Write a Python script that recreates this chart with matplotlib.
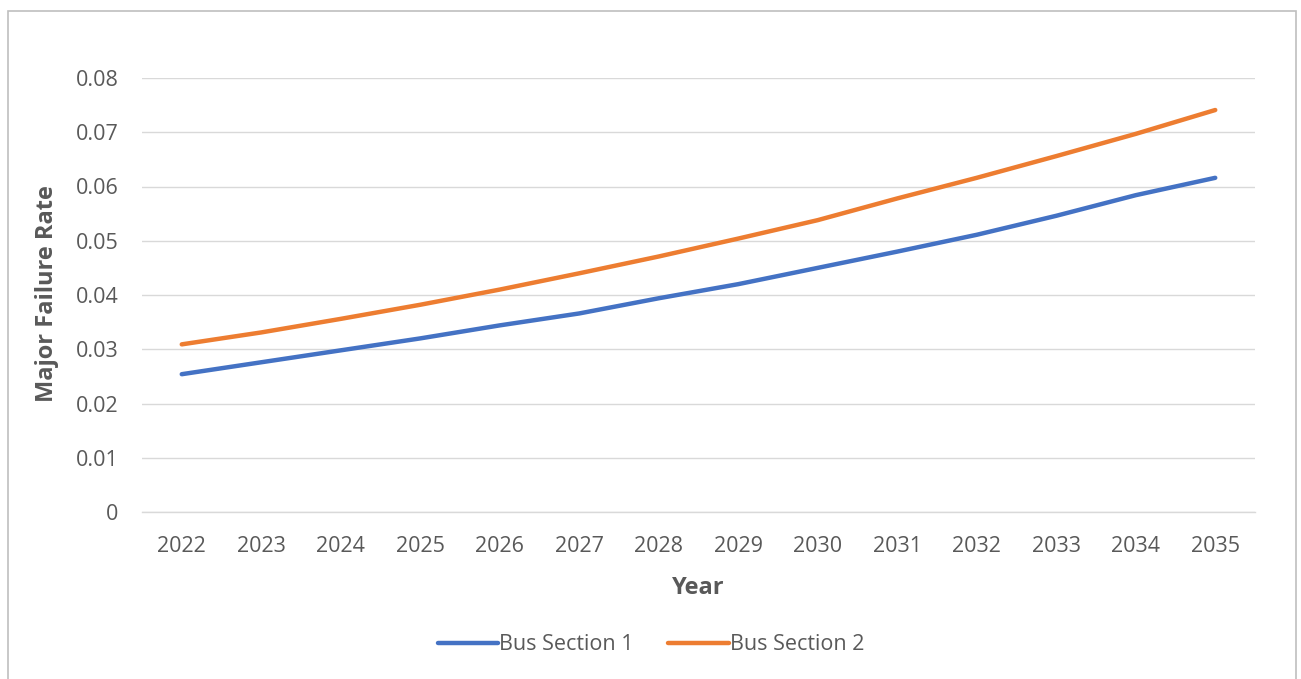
import matplotlib.pyplot as plt
from matplotlib.patches import Rectangle

years = [2022, 2023, 2024, 2025, 2026, 2027, 2028, 2029, 2030, 2031, 2032, 2033, 2034, 2035]
bus_section_1 = [0.0254, 0.0276, 0.0298, 0.0320, 0.0344, 0.0366, 0.0394,
                 0.0420, 0.0450, 0.0480, 0.0511, 0.0546, 0.0584, 0.0616]
bus_section_2 = [0.0309, 0.0331, 0.0356, 0.0382, 0.0410, 0.0440, 0.0471,
                 0.0504, 0.0538, 0.0578, 0.0616, 0.0656, 0.0697, 0.0741]
y_ticks = [0, 0.01, 0.02, 0.03, 0.04, 0.05, 0.06, 0.07, 0.08]
y_tick_labels = ['0', '0.01', '0.02', '0.03', '0.04', '0.05', '0.06', '0.07', '0.08']

plt.rcParams['font.family'] = ['Open Sans', 'DejaVu Sans']
text_grey = '#595959'

fig = plt.figure(figsize=(13.01, 6.79), dpi=100)
ax = fig.add_axes([142 / 1301, 1 - 512 / 679, (1255 - 142) / 1301, (512 - 78) / 679])

# chart frame
fig.patches.append(Rectangle((8 / 1301, -0.05), (1296 - 8) / 1301, 1.05 - 11 / 679,
                             transform=fig.transFigure, fill=False,
                             edgecolor='#BFBFBF', linewidth=1.2))

ax.plot(years, bus_section_1, color='#4472C4', linewidth=3.2,
        solid_capstyle='round', solid_joinstyle='round', label='Bus Section 1')
ax.plot(years, bus_section_2, color='#ED7D31', linewidth=3.2,
        solid_capstyle='round', solid_joinstyle='round', label='Bus Section 2')

ax.set_xlim(2021.5, 2035.5)
ax.set_ylim(0, 0.08)
ax.set_xticks(years)
ax.set_xticklabels([str(y) for y in years])
ax.set_yticks(y_ticks)
ax.set_yticklabels(y_tick_labels)
ax.tick_params(axis='both', length=0, labelsize=15.5, labelcolor=text_grey)
ax.tick_params(axis='y', pad=17)
ax.tick_params(axis='x', pad=17)

ax.grid(axis='y', color='#D9D9D9', linewidth=1)
ax.set_axisbelow(True)
for side in ['top', 'right', 'left']:
    ax.spines[side].set_visible(False)
ax.spines['bottom'].set_color('#D9D9D9')
ax.spines['bottom'].set_linewidth(1)

fig.text(698 / 1301, 1 - 588 / 679, 'Year', fontsize=17, fontweight='bold',
         color=text_grey, ha='center', va='center')
fig.text(47 / 1301, 1 - 294 / 679, 'Major Failure Rate', fontsize=17, fontweight='bold',
         color=text_grey, ha='center', va='center', rotation=90)

fig.legend(loc='center', bbox_to_anchor=(651 / 1301, 1 - 645 / 679), ncol=2, frameon=False,
           fontsize=15.5, labelcolor=text_grey, handlelength=2.8, handletextpad=0.05,
           columnspacing=1.6)

fig.savefig('out.png', dpi=100, facecolor='white')
